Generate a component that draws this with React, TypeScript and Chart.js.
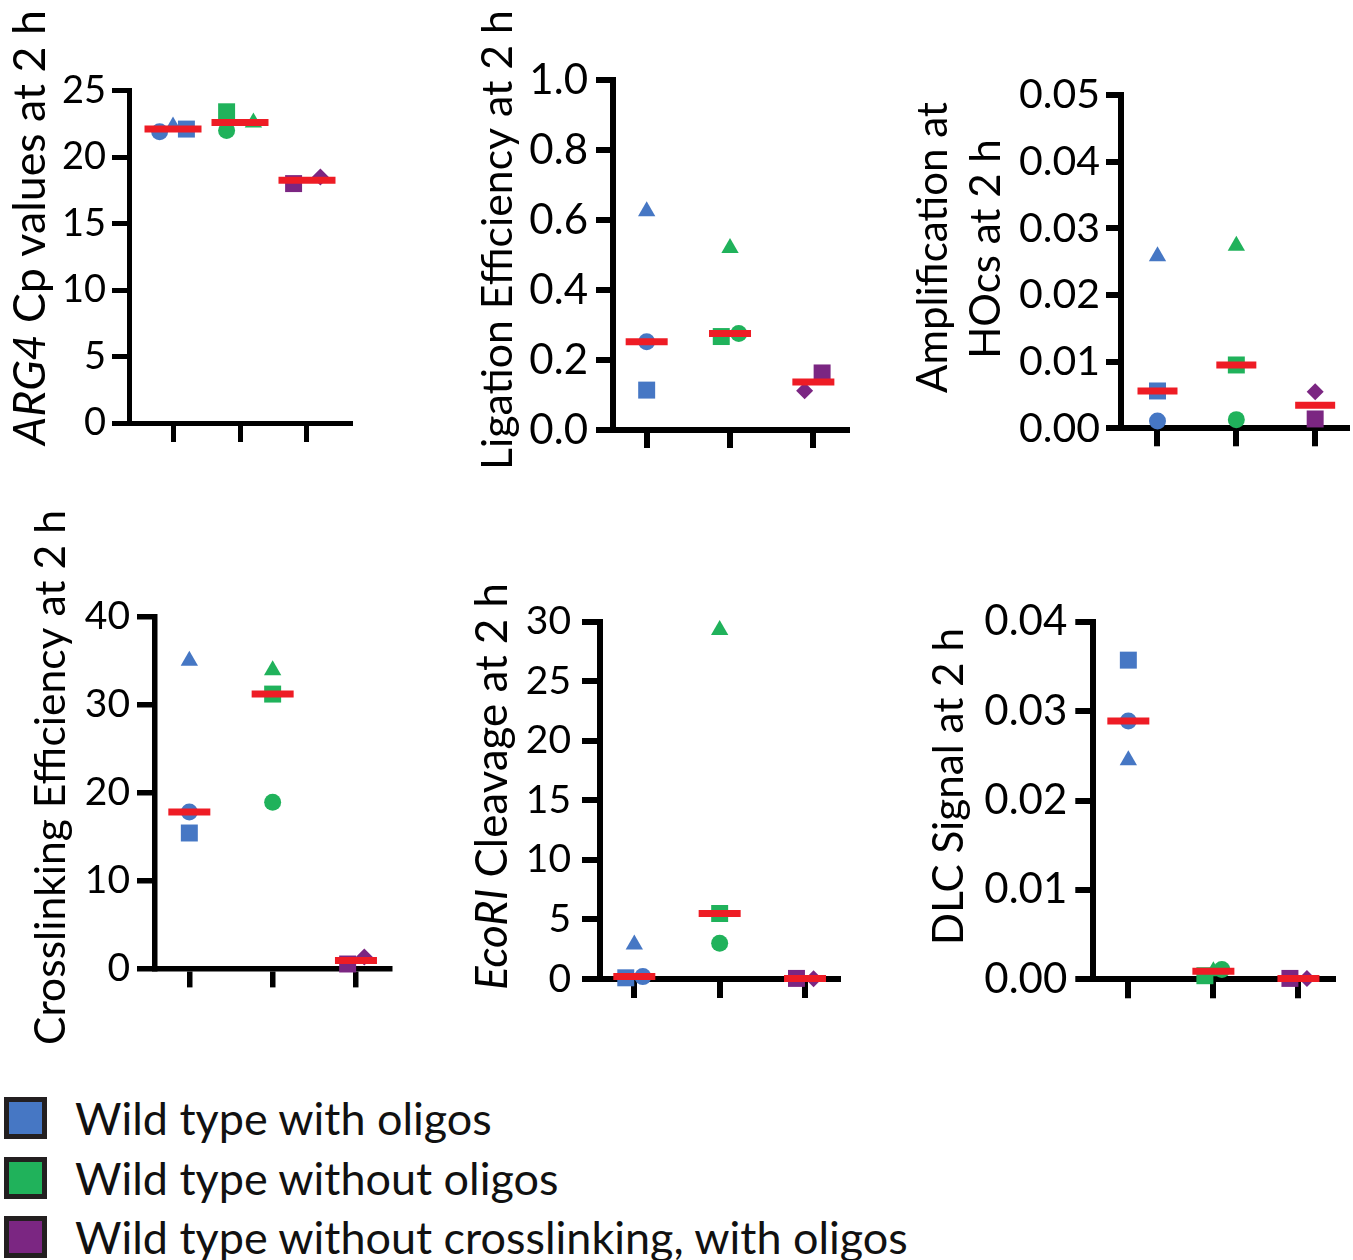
import React, { useEffect, useRef } from 'react';
import { Chart, registerables } from 'chart.js';

Chart.register(...registerables);

const FONT = 'Lato, "Open Sans", sans-serif';

const GROUP_LABELS = [
  'Wild type with oligos',
  'Wild type without oligos',
  'Wild type without crosslinking, with oligos',
];
const GROUP_COLORS = ['#4677c4', '#20b25b', '#7b2682'];
const MEDIAN_COLOR = '#ee1c25';
// replicate marker shapes: wild type groups (circle, square, triangle), no-crosslink group (square, diamond)
const WT_SHAPES = ['circle', 'rect', 'triangle'];
const NOXL_SHAPES = ['rect', 'rectRot'];

// ARG4 Cp values at 2 h
const ARG4_BLUE = [21.9, 22.1, 22.3];
const ARG4_GREEN = [22.0, 23.4, 22.6];
const ARG4_PURPLE = [18.0, 18.5];
const ARG4_TICKS = [0, 5, 10, 15, 20, 25];

// Ligation Efficiency at 2 h
const LIG_BLUE = [0.252, 0.114, 0.625];
const LIG_GREEN = [0.276, 0.267, 0.52];
const LIG_PURPLE = [0.163, 0.112];
const LIG_TICKS = [0, 0.2, 0.4, 0.6, 0.8, 1.0];

// Amplification at HOcs at 2 h
const AMP_BLUE = [0.0011, 0.0056, 0.0258];
const AMP_GREEN = [0.0013, 0.0095, 0.0274];
const AMP_PURPLE = [0.0014, 0.0055];
const AMP_TICKS = [0, 0.01, 0.02, 0.03, 0.04, 0.05];

// Crosslinking Efficiency at 2 h
const XL_BLUE = [17.8, 15.4, 35.0];
const XL_GREEN = [18.9, 31.2, 33.9];
const XL_PURPLE = [0.5, 1.3];
const XL_TICKS = [0, 10, 20, 30, 40];

// EcoRI Cleavage at 2 h
const ECO_BLUE = [0.2, 0.1, 2.9];
const ECO_GREEN = [3.0, 5.5, 29.3];
const ECO_PURPLE = [0.05, 0.02];
const ECO_TICKS = [0, 5, 10, 15, 20, 25, 30];

// DLC Signal at 2 h
const DLC_BLUE = [0.0289, 0.0357, 0.0245];
const DLC_GREEN = [0.0011, 0.0004, 0.0009];
const DLC_PURPLE = [0.0001, 0.0001];
const DLC_TICKS = [0, 0.01, 0.02, 0.03, 0.04];

// horizontal scatter slots used to separate overlapping replicates
const ARG4_JITTER = [[-1, 1, 0], [-1, -1, 1], [-1, 1]];
const LIG_JITTER = [[0, 0, 0], [1, -1, 0], [1, -1]];
const AMP_JITTER = [[0, 0, 0], [0, 0, 0], [0, 0]];
const XL_JITTER = [[0, 0, 0], [0, 0, 0], [-1, 1]];
const ECO_JITTER = [[1, -1, 0], [0, 0, 0], [-1, 1]];
const DLC_JITTER = [[0, 0, 0], [1, -1, 0], [-1, 1]];

const RADIUS: Record<string, number> = { circle: 8.5, rect: 12, triangle: 10, rectRot: 8.5 };

type Seg = { t: string; i?: boolean };

const PANELS = [
  {
    key: 'arg4',
    values: [ARG4_BLUE, ARG4_GREEN, ARG4_PURPLE],
    jitter: ARG4_JITTER,
    ticks: ARG4_TICKS,
    decimals: 0,
    title: [[{ t: 'ARG4', i: true }, { t: ' Cp values at 2 h' }]] as Seg[][],
    canvas: { left: 0, top: 0, width: 380, height: 480 },
    area: { left: 129, right: 350, top: 90.5, bottom: 423 },
    xMin: 0.343, xMax: 3.642, slot: 0.2,
    tickFont: 38, tickPad: 6, yTick: 17, xTick: 19, axisW: 5, medianHalf: 28.5,
    titleBase: [45], titleCY: [227.5], titleLen: [435],
  },
  {
    key: 'lig',
    values: [LIG_BLUE, LIG_GREEN, LIG_PURPLE],
    jitter: LIG_JITTER,
    ticks: LIG_TICKS,
    decimals: 1,
    title: [[{ t: 'Ligation Efficiency at 2 h' }]] as Seg[][],
    canvas: { left: 460, top: 0, width: 410, height: 480 },
    area: { left: 613, right: 846.7, top: 80, bottom: 430 },
    xMin: 0.596, xMax: 3.4, slot: 0.105,
    tickFont: 42, tickPad: 8, yTick: 17, xTick: 18, axisW: 6, medianHalf: 21,
    titleBase: [511.7], titleCY: [240], titleLen: [460],
  },
  {
    key: 'amp',
    values: [AMP_BLUE, AMP_GREEN, AMP_PURPLE],
    jitter: AMP_JITTER,
    ticks: AMP_TICKS,
    decimals: 2,
    title: [[{ t: 'Amplification at' }], [{ t: 'HOcs at 2 h' }]] as Seg[][],
    canvas: { left: 880, top: 0, width: 473, height: 480 },
    area: { left: 1121, right: 1346.7, top: 95, bottom: 428.3 },
    xMin: 0.537, xMax: 3.4, slot: 0.1,
    tickFont: 41, tickPad: 6, yTick: 15, xTick: 18, axisW: 6, medianHalf: 20,
    titleBase: [946.7, 1000], titleCY: [247.5, 249], titleLen: [291, 202],
  },
  {
    key: 'xl',
    values: [XL_BLUE, XL_GREEN, XL_PURPLE],
    jitter: XL_JITTER,
    ticks: XL_TICKS,
    decimals: 0,
    title: [[{ t: 'Crosslinking Efficiency at 2 h' }]] as Seg[][],
    canvas: { left: 0, top: 490, width: 420, height: 570 },
    area: { left: 155, right: 389.3, top: 616.7, bottom: 968.4 },
    xMin: 0.588, xMax: 3.4, slot: 0.1,
    tickFont: 39, tickPad: 7, yTick: 18, xTick: 19, axisW: 5.5, medianHalf: 21,
    titleBase: [65], titleCY: [777.5], titleLen: [535],
  },
  {
    key: 'eco',
    values: [ECO_BLUE, ECO_GREEN, ECO_PURPLE],
    jitter: ECO_JITTER,
    ticks: ECO_TICKS,
    decimals: 0,
    title: [[{ t: 'EcoRI', i: true }, { t: ' Cleavage at 2 h' }]] as Seg[][],
    canvas: { left: 450, top: 560, width: 420, height: 480 },
    area: { left: 600, right: 838.3, top: 621.7, bottom: 979 },
    xMin: 0.598, xMax: 3.39, slot: 0.1,
    tickFont: 39, tickPad: 11, yTick: 18, xTick: 19, axisW: 6, medianHalf: 21,
    titleBase: [506.7], titleCY: [786.5], titleLen: [407],
  },
  {
    key: 'dlc',
    values: [DLC_BLUE, DLC_GREEN, DLC_PURPLE],
    jitter: DLC_JITTER,
    ticks: DLC_TICKS,
    decimals: 2,
    title: [[{ t: 'DLC Signal at 2 h' }]] as Seg[][],
    canvas: { left: 880, top: 560, width: 473, height: 480 },
    area: { left: 1093.3, right: 1333.3, top: 621.7, bottom: 979.3 },
    xMin: 0.588, xMax: 3.41, slot: 0.1,
    tickFont: 42, tickPad: 8, yTick: 18, xTick: 19, axisW: 6, medianHalf: 21,
    titleBase: [963.3], titleCY: [786.5], titleLen: [317],
  },
];

type PanelT = (typeof PANELS)[number];

function median(vals: number[]) {
  const s = [...vals].sort((a, b) => a - b);
  const m = Math.floor(s.length / 2);
  return s.length % 2 ? s[m] : (s[m - 1] + s[m]) / 2;
}

function segFont(size: number, italic?: boolean) {
  return `${italic ? 'italic ' : ''}${size}px ${FONT}`;
}

function measureSegs(ctx: CanvasRenderingContext2D, segs: Seg[], size: number) {
  let w = 0;
  segs.forEach((s) => {
    ctx.font = segFont(size, s.i);
    w += ctx.measureText(s.t).width;
  });
  return w;
}

function PanelChart({ p }: { p: PanelT }) {
  const ref = useRef<HTMLCanvasElement | null>(null);
  useEffect(() => {
    const canvas = ref.current;
    if (!canvas) return;
    const black = '#000';
    const datasets: any[] = p.values.map((vals, g) => {
      const shapes = g < 2 ? WT_SHAPES : NOXL_SHAPES;
      return {
        type: 'scatter',
        data: vals.map((v, i) => ({ x: g + 1 + p.jitter[g][i] * p.slot, y: v })),
        pointStyle: shapes,
        pointRadius: shapes.map((s) => RADIUS[s]),
        pointHoverRadius: shapes.map((s) => RADIUS[s]),
        pointBackgroundColor: GROUP_COLORS[g],
        pointBorderColor: GROUP_COLORS[g],
        pointBorderWidth: 0,
        showLine: false,
        order: 1,
        clip: false,
      };
    });
    datasets.push({
      type: 'scatter',
      data: p.values.map((vals, g) => ({ x: g + 1, y: median(vals) })),
      pointStyle: 'line',
      pointRadius: p.medianHalf,
      pointHoverRadius: p.medianHalf,
      pointBorderWidth: 7,
      pointHoverBorderWidth: 7,
      pointBorderColor: MEDIAN_COLOR,
      pointBackgroundColor: MEDIAN_COLOR,
      showLine: false,
      order: 0,
      clip: false,
    });

    const titlePlugin = {
      id: 'verticalTitle',
      afterDraw(chart: any) {
        const ctx: CanvasRenderingContext2D = chart.ctx;
        ctx.save();
        const w100 = measureSegs(ctx, p.title[0], 100);
        const size = (100 * p.titleLen[0]) / w100;
        ctx.fillStyle = '#000';
        ctx.textBaseline = 'alphabetic';
        ctx.textAlign = 'left';
        p.title.forEach((segs, li) => {
          const total = measureSegs(ctx, segs, size);
          ctx.save();
          ctx.translate(p.titleBase[li] - p.canvas.left, p.titleCY[li] - p.canvas.top);
          ctx.rotate(-Math.PI / 2);
          let x = -total / 2;
          segs.forEach((s) => {
            ctx.font = segFont(size, s.i);
            ctx.fillText(s.t, x, 0);
            x += ctx.measureText(s.t).width;
          });
          ctx.restore();
        });
        ctx.restore();
      },
    };

    const gridOpts = (tl: number) => ({
      display: true,
      drawOnChartArea: false,
      drawTicks: true,
      tickLength: tl,
      tickWidth: p.axisW,
      tickColor: black,
      lineWidth: p.axisW,
      color: black,
    });

    const chart = new Chart(canvas, {
      type: 'scatter',
      data: { datasets },
      plugins: [titlePlugin],
      options: {
        animation: false,
        responsive: false,
        devicePixelRatio: 1,
        events: [],
        layout: {
          autoPadding: false,
          padding: {
            top: p.area.top - p.canvas.top,
            right: p.canvas.left + p.canvas.width - p.area.right,
            left: 0,
            bottom: 0,
          },
        },
        plugins: { legend: { display: false }, tooltip: { enabled: false }, title: { display: false } },
        scales: {
          x: {
            type: 'linear',
            min: p.xMin,
            max: p.xMax,
            afterBuildTicks: (s: any) => {
              s.ticks = [1, 2, 3].map((v) => ({ value: v }));
            },
            ticks: { display: false },
            grid: gridOpts(p.xTick),
            border: { display: true, width: p.axisW, color: black },
            afterFit: (s: any) => {
              s.height = p.canvas.top + p.canvas.height - p.area.bottom;
            },
          },
          y: {
            type: 'linear',
            min: 0,
            max: p.ticks[p.ticks.length - 1],
            afterBuildTicks: (s: any) => {
              s.ticks = p.ticks.map((v) => ({ value: v }));
            },
            ticks: {
              autoSkip: false,
              color: black,
              padding: p.tickPad,
              font: { family: FONT, size: p.tickFont },
              callback: (v: any) => Number(v).toFixed(p.decimals),
            },
            grid: gridOpts(p.yTick),
            border: { display: true, width: p.axisW, color: black },
            afterFit: (s: any) => {
              s.width = p.area.left - p.canvas.left;
            },
          },
        },
      } as any,
    });
    return () => chart.destroy();
  }, [p]);

  return (
    <canvas
      ref={ref}
      width={p.canvas.width}
      height={p.canvas.height}
      style={{
        position: 'absolute',
        left: p.canvas.left,
        top: p.canvas.top,
        width: p.canvas.width,
        height: p.canvas.height,
      }}
    />
  );
}

function fitFontSize(text: string, target: number) {
  const c = document.createElement('canvas').getContext('2d');
  if (!c) return 44;
  c.font = `100px ${FONT}`;
  return (100 * target) / c.measureText(text).width;
}

export default function App() {
  const legendSize = fitFontSize(GROUP_LABELS[2], 835);
  const rowTops = [1097, 1156.5, 1216];
  return (
    <div
      style={{
        position: 'absolute',
        left: 0,
        top: 0,
        width: 1353,
        height: 1260,
        background: '#fff',
        overflow: 'hidden',
        fontFamily: FONT,
      }}
    >
      {PANELS.map((p) => (
        <PanelChart key={p.key} p={p} />
      ))}
      {GROUP_LABELS.map((label, g) => (
        <div
          key={label}
          style={{
            position: 'absolute',
            left: 4,
            top: rowTops[g],
            height: 42,
            display: 'flex',
            alignItems: 'center',
            whiteSpace: 'nowrap',
          }}
        >
          <div
            style={{
              width: 43,
              height: 42,
              boxSizing: 'border-box',
              border: '5px solid #231f20',
              background: GROUP_COLORS[g],
            }}
          />
          <span
            style={{
              marginLeft: 28,
              fontSize: legendSize,
              lineHeight: '42px',
              color: '#111',
            }}
          >
            {label}
          </span>
        </div>
      ))}
    </div>
  );
}
